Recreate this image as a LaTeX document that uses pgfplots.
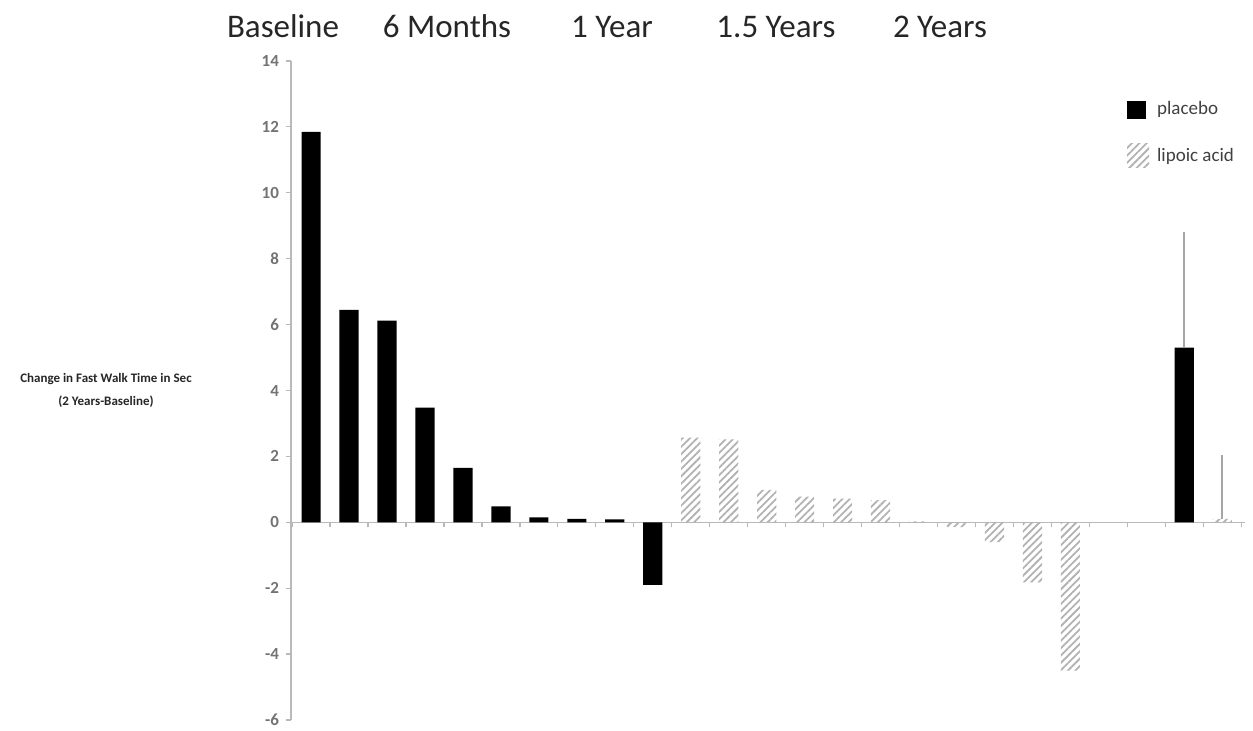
\documentclass[border=0pt]{standalone}
\usepackage{pgfplots}
\pgfplotsset{compat=1.18}
\usepackage{pgfplotstable}
\usepackage{fontspec}
\setmainfont{Carlito}
\usetikzlibrary{patterns.meta}

\pgfplotstableread{
x y e
0 11.85 0
1 6.45 0
2 6.12 0
3 3.48 0
4 1.65 0
5 0.48 0
6 0.15 0
7 0.10 0
8 0.09 0
9 -1.90 0
23 5.30 3.50
}\placebo

\pgfplotstableread{
x y e
10 2.57 0
11 2.52 0
12 0.98 0
13 0.78 0
14 0.72 0
15 0.67 0
16 0.03 0
17 -0.15 0
18 -0.60 0
19 -1.82 0
20 -4.50 0
24 0.10 1.95
}\lipoic

\begin{document}
\begin{tikzpicture}
\begin{axis}[
  scale only axis, width=477pt, height=329.5pt,
  xmin=-0.53, xmax=24.6, ymin=-6, ymax=14,
  axis x line=middle, axis y line=left,
  axis line style={-, draw=gray!55, line width=0.7pt},
  hide obscured x ticks=false, hide obscured y ticks=false,
  ytick={-6,-4,...,14},
  xtick={-0.5,0.5,...,24.5}, xticklabels={},
  tick align=outside, major tick length=2.5pt,
  tick style={draw=gray!55, line width=0.6pt},
  /pgf/number format/assume math mode=true,
  yticklabel style={font=\bfseries\fontsize{8.5}{9}\selectfont, text=black!55},
  clip=false,
  legend style={at={(0.876,0.945)}, anchor=north west, draw=none, fill=none,
    font=\fontsize{9.5}{10}\selectfont, text=black!75, row sep=11pt, column sep=2pt,
    inner sep=0pt, legend cell align=left},
]
\addplot[ybar, bar shift=0pt, bar width=9.6pt, fill=black, draw=none,
  legend image code/.code={\fill[black] (0pt,-4.5pt) rectangle (9.5pt,4.5pt);},
  error bars/.cd, y dir=plus, y explicit, error mark=none,
  error bar style={draw=gray!70, line width=0.8pt}]
  table[x=x, y=y, y error=e] {\placebo};
\addlegendentry{placebo}
\addplot[ybar, bar shift=0pt, bar width=9.6pt, draw=none,
  pattern={Lines[angle=45,distance=2.6pt,line width=0.9pt]}, pattern color=gray!60,
  legend image code/.code={\fill[pattern={Lines[angle=45,distance=2.6pt,line width=0.9pt]}, pattern color=gray!60] (0pt,-6pt) rectangle (11pt,6pt);},
  error bars/.cd, y dir=plus, y explicit, error mark=none,
  error bar style={draw=gray!70, line width=0.8pt}]
  table[x=x, y=y, y error=e] {\lipoic};
\addlegendentry{lipoic acid}

\coordinate (sw) at (rel axis cs:0,0);
\coordinate (ne) at (rel axis cs:1,1);
\begin{scope}[every node/.style={anchor=base, font=\fontsize{16.5}{18}\selectfont, text=black!85}]
\node at ([xshift=-4pt,yshift=11.5pt]rel axis cs:0,1) {Baseline};
\node at ([xshift=78pt,yshift=11.5pt]rel axis cs:0,1) {6 Months};
\node at ([xshift=160.5pt,yshift=11.5pt]rel axis cs:0,1) {1 Year};
\node at ([xshift=242.5pt,yshift=11.5pt]rel axis cs:0,1) {1.5 Years};
\node at ([xshift=324.5pt,yshift=11.5pt]rel axis cs:0,1) {2 Years};
\end{scope}
\node[align=center, font=\bfseries\fontsize{6.5}{11.5}\selectfont, text=black!85]
  at ([xshift=-92.5pt]rel axis cs:0,0.5) {Change in Fast Walk Time in Sec\\(2 Years-Baseline)};
\end{axis}
\pgfresetboundingbox
\path ([xshift=-145.5pt,yshift=-5.5pt]sw) rectangle ([xshift=4pt,yshift=30.5pt]ne);
\end{tikzpicture}
\end{document}
